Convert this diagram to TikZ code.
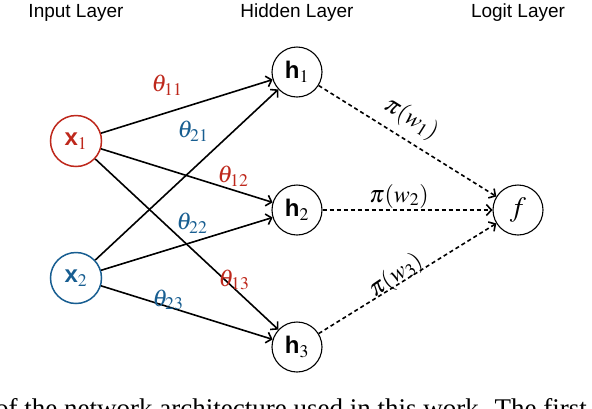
\documentclass[tikz,border=0pt]{standalone}
\usepackage{mathptmx}
\usepackage{fontspec}
\setmainfont{Liberation Serif}
\setsansfont{Liberation Sans}
\usetikzlibrary{arrows.meta}

\definecolor{inred}{RGB}{190,40,28}
\definecolor{inblue}{RGB}{24,94,145}

\begin{document}
\begin{tikzpicture}[x=1pt,y=-1pt,
    neuron/.style={circle,draw,line width=1.1pt,minimum size=50pt,inner sep=0pt,
        font=\fontsize{24}{26}\selectfont},
    inneuron/.style={neuron,line width=1.5pt,minimum size=51pt},
    edge/.style={line width=1.6pt,-{Straight Barb[length=5pt,width=11pt]}},
    link/.style={edge,dash pattern=on 4pt off 3pt},
    title/.style={anchor=base,font=\fontsize{19}{21}\sffamily},
    wlab/.style={font=\fontsize{24}{26}\selectfont,inner sep=1pt}]
    \clip (0,0) rectangle (592,408);

    \node[title] (tin) at (76,17) {Input Layer};   % Titles
    \node[title] (thid) at (297,17) {Hidden Layer};
    \node[title] (tlog) at (518,17) {Logit Layer};

    \node[inneuron,draw=inred,text=inred] (x1) at (76,141) {\textbf{\sffamily x}$_1$};
    \node[inneuron,draw=inblue,text=inblue] (x2) at (76,278) {\textbf{\sffamily x}$_2$};
    \foreach \j/\y in {1/72,2/210,3/347} {
        \node[neuron] (h\j) at (297,\y) {\textbf{\sffamily h}$_\j$};
    }
    \node[neuron,font=\fontsize{28}{30}\selectfont] (f) at (518,210) {$f$};

    \foreach \i in {1,2} {
        \foreach \j in {1,2,3} {
            \draw[edge] (x\i) -- (h\j);
        }
    }
    \foreach \j in {1,2,3} {
        \draw[link] (h\j) -- (f);   % Weighted paths
    }

    \foreach \n/\p/\c in {11/{167,85}/inred, 21/{193,131}/inblue, 12/{233,176}/inred,
        22/{192,223}/inblue, 13/{234,280}/inred, 23/{168,300}/inblue} {
        \node[wlab,text=\c] (t\n) at (\p) {$\theta_{\n}$};
    }

    \node[wlab,rotate=-32] (pw1) at (411,119) {$\pi(w_1)$};
    \node[wlab] (pw2) at (399,196) {$\pi(w_2)$};
    \node[wlab,rotate=34] (pw3) at (396,276) {$\pi(w_3)$};

    \node[anchor=base west,font=\fontsize{27}{29}\selectfont,inner sep=0pt] (cap) at (-5,417)
        {of the network architecture used in this work. The first};
\end{tikzpicture}
\end{document}
